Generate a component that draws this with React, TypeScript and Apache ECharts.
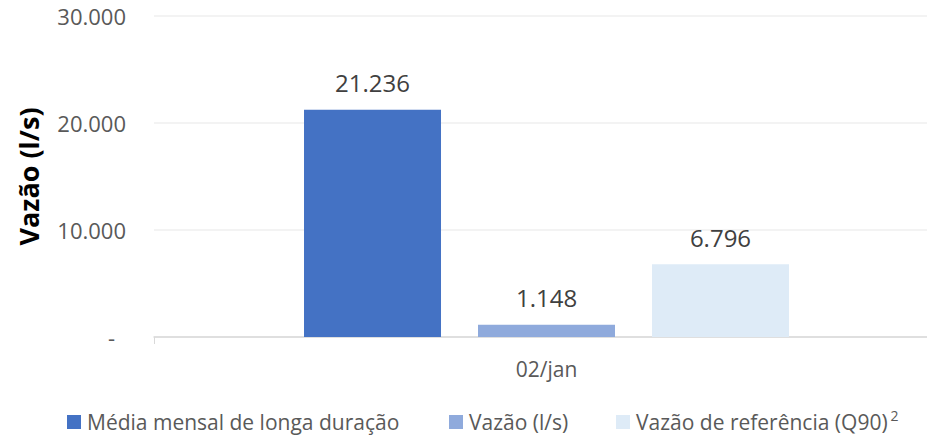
import React, { useEffect, useRef } from 'react';
import * as echarts from 'echarts';

const categories = ['02/jan'];
const seriesNames = ['Média mensal de longa duração', 'Vazão (l/s)', 'Vazão de referência (Q90)'];
const mediaMensal = [21236];
const vazao = [1148];
const vazaoReferencia = [6796];
const yMin = 0;
const yMax = 30000;
const yInterval = 10000;
const colors = ['#4472C4', '#8FAADC', '#DEEBF7'];
const legendLefts = [62, 444, 611];

const FONT = '"Open Sans", sans-serif';

function fmt(v: number): string {
  return String(Math.round(v)).replace(/\B(?=(\d{3})+(?!\d))/g, '.');
}

export default function App() {
  const ref = useRef<HTMLDivElement>(null);
  useEffect(() => {
    if (!ref.current) return;
    const chart = echarts.init(ref.current, null, { renderer: 'svg' });
    const dataSets = [mediaMensal, vazao, vazaoReferencia];
    const option: any = {
      animation: false,
      backgroundColor: '#ffffff',
      textStyle: { fontFamily: FONT },
      grid: { left: 154, right: 0, top: 16, bottom: 99, containLabel: false },
      legend: seriesNames.map((n, i) => ({
        data: [n],
        left: legendLefts[i],
        top: 403,
        icon: 'rect',
        itemWidth: 14,
        itemHeight: 14,
        selectedMode: false,
        formatter: (name: string) => (i === 2 ? name + '{sup|2}' : name),
        textStyle: {
          fontFamily: FONT,
          fontSize: 21,
          lineHeight: 28,
          color: '#595959',
          padding: [0, 0, 0, 1],
          rich: {
            sup: { fontFamily: FONT, fontSize: 14, lineHeight: 10, color: '#595959', verticalAlign: 'top', padding: [0, 0, 0, 3] },
          },
        },
      })),
      xAxis: {
        type: 'category',
        data: categories,
        boundaryGap: true,
        axisLine: { show: true, lineStyle: { color: '#D9D9D9', width: 1.5 } },
        axisTick: { show: true, length: 7, lineStyle: { color: '#D9D9D9' } },
        axisLabel: { fontFamily: FONT, fontSize: 21, color: '#595959', margin: 21 },
        splitLine: { show: false },
      },
      yAxis: {
        type: 'value',
        min: yMin,
        max: yMax,
        interval: yInterval,
        name: 'Vazão (l/s)',
        nameLocation: 'middle',
        nameGap: 112,
        nameTextStyle: { fontFamily: FONT, fontSize: 27, fontWeight: 'bold', color: '#000000' },
        axisLine: { show: false },
        axisTick: { show: false },
        axisLabel: {
          fontFamily: FONT,
          fontSize: 22,
          color: '#595959',
          margin: 28,
          formatter: (v: number) => (v === 0 ? '{z|-}' : fmt(v)),
          rich: { z: { fontFamily: FONT, fontSize: 22, color: '#595959', padding: [0, 11, 0, 0] } },
        },
        splitLine: { show: true, lineStyle: { color: '#EFEFEF', width: 1.5 } },
      },
      series: seriesNames.map((n, i) => ({
        name: n,
        type: 'bar',
        data: dataSets[i],
        barWidth: 137,
        barGap: '27%',
        itemStyle: { color: colors[i] },
        label: {
          show: true,
          position: 'top',
          distance: 15,
          fontFamily: FONT,
          fontSize: 24,
          color: '#404040',
          formatter: (p: any) => fmt(p.value),
        },
      })),
    };
    chart.setOption(option);
    return () => chart.dispose();
  }, []);
  return (
    <div style={{ position: 'fixed', left: 0, top: 0, width: 927, height: 436, overflow: 'hidden' }}>
      <div ref={ref} style={{ width: 939, height: 436 }} />
    </div>
  );
}
